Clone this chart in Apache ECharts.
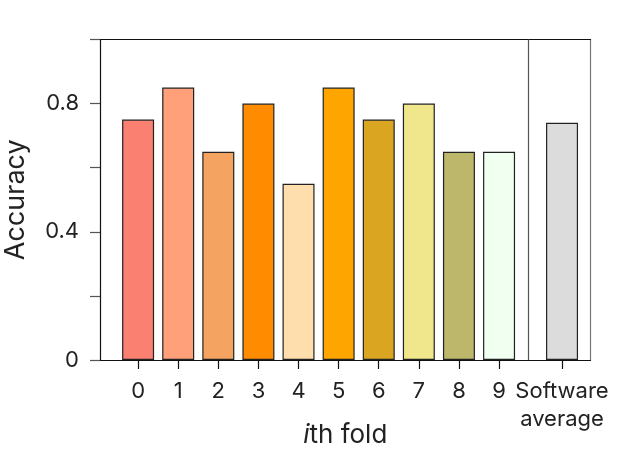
<!DOCTYPE html>
<html>
<head>
    <meta charset="UTF-8">
    <title>Accuracy per fold</title>
    <script src="https://cdn.jsdelivr.net/npm/echarts@6/dist/echarts.min.js"></script>
    <style>
        body { margin: 0; background: #fff; }
        #chart { width: 617px; height: 450px; }
    </style>
</head>
<body>
<div id="chart"></div>
<script>
    // data
    var foldLabels = ['0', '1', '2', '3', '4', '5', '6', '7', '8', '9'];
    var foldAccuracy = [0.75, 0.85, 0.65, 0.80, 0.55, 0.85, 0.75, 0.80, 0.65, 0.65];
    var averageLabel = 'Software\naverage';
    var averageAccuracy = 0.74;
    var yTickLabels = [0, 0.4, 0.8];

    // bar fills
    var foldColors = ['#FA8072', '#FFA07A', '#F4A460', '#FF8C00', '#FFDEAD',
        '#FFA500', '#DAA520', '#F0E68C', '#BDB76B', '#F0FFF0'];
    var averageColor = '#DCDCDC';

    // the average bar sits a bit further out, after a divider
    var avgPos = foldLabels.length - 1 + 1.57;
    var dividerPos = foldLabels.length - 1 + 0.73;

    var positions = [];
    var labels = [];
    var barData = [];
    foldLabels.forEach(function (lab, i) {
        positions.push(i);
        labels.push(lab);
        barData.push({value: [i, foldAccuracy[i]], itemStyle: {color: foldColors[i]}});
    });
    positions.push(avgPos);
    labels.push(averageLabel);
    barData.push({value: [avgPos, averageAccuracy], itemStyle: {color: averageColor}});

    function labelFor(v) {
        var best = 0;
        for (var k = 1; k < positions.length; k++) {
            if (Math.abs(positions[k] - v) < Math.abs(positions[best] - v)) best = k;
        }
        return labels[best];
    }

    var font = 'Inter';
    var chart = echarts.init(document.getElementById('chart'));
    chart.setOption({
        animation: false,
        textStyle: {fontFamily: font},
        grid: {left: 100, right: 26.5, top: 39.5, bottom: 90, containLabel: false, outerBoundsMode: 'none'},
        xAxis: [{
            type: 'value',
            min: -0.95,
            max: 11.28,
            splitLine: {show: false},
            axisLine: {show: true, onZero: false, lineStyle: {color: '#111', width: 1.2}},
            axisTick: {show: true, length: 9, customValues: positions, lineStyle: {color: '#111', width: 1.2}},
            axisLabel: {
                customValues: positions,
                formatter: labelFor,
                fontSize: 22,
                lineHeight: 28,
                margin: 17,
                color: '#222',
                fontFamily: font
            },
            name: '{i|i}th fold',
            nameLocation: 'middle',
            nameGap: 62,
            nameMoveOverlap: false,
            nameTextStyle: {
                fontSize: 26,
                color: '#222',
                fontFamily: font,
                rich: {i: {fontSize: 26, fontStyle: 'italic', color: '#222', fontFamily: font}}
            }
        }, {
            type: 'value',
            position: 'top',
            min: -0.95,
            max: 11.28,
            splitLine: {show: false},
            axisLine: {show: true, onZero: false, lineStyle: {color: '#111', width: 1.2}},
            axisTick: {show: false},
            axisLabel: {show: false}
        }],
        yAxis: [{
            type: 'value',
            min: 0,
            max: 1,
            interval: 0.2,
            splitLine: {show: false},
            axisLine: {show: true, onZero: false, lineStyle: {color: '#111', width: 1.2}},
            axisTick: {show: true, length: 10, lineStyle: {color: '#555', width: 1.2}},
            axisLabel: {
                customValues: yTickLabels,
                formatter: function (v) { return v === 0 ? '0' : v.toFixed(1); },
                fontSize: 22,
                margin: 21,
                color: '#222',
                fontFamily: font
            },
            name: 'Accuracy',
            nameLocation: 'middle',
            nameGap: 71,
            nameMoveOverlap: false,
            nameTextStyle: {fontSize: 27, color: '#222', fontFamily: font}
        }, {
            type: 'value',
            position: 'right',
            min: 0,
            max: 1,
            splitLine: {show: false},
            axisLine: {show: true, onZero: false, lineStyle: {color: '#777', width: 1.2}},
            axisTick: {show: false},
            axisLabel: {show: false}
        }],
        series: [{
            type: 'bar',
            data: barData,
            barWidth: 32,
            itemStyle: {borderColor: '#222', borderWidth: 1.2},
            markLine: {
                silent: true,
                symbol: 'none',
                label: {show: false},
                lineStyle: {color: '#555', type: 'solid', width: 1.2},
                data: [{xAxis: dividerPos}]
            }
        }]
    });
</script>
</body>
</html>
